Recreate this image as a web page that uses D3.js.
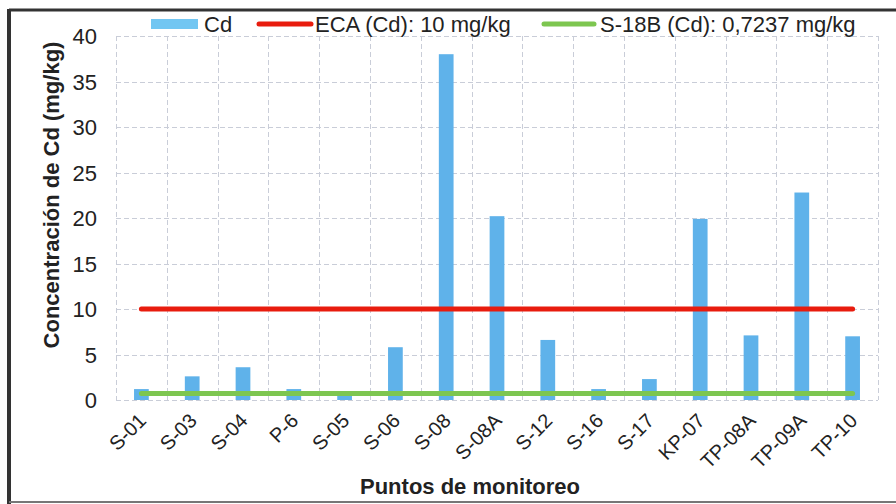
<!DOCTYPE html>
<html><head><meta charset="utf-8">
<script src="https://cdn.jsdelivr.net/npm/d3@7"></script>
<style>body{margin:0;background:#fff}svg{display:block;font-family:"Liberation Sans",Arial,sans-serif}</style>
</head><body><svg id="c" width="896" height="504"></svg>
<script>
const categories = ["S-01","S-03","S-04","P-6","S-05","S-06","S-08","S-08A","S-12","S-16","S-17","KP-07","TP-08A","TP-09A","TP-10"];
const cdValues = [1.2,2.6,3.6,1.2,0.6,5.8,38.0,20.2,6.6,1.2,2.3,19.9,7.1,22.8,7.0];
const ecaValue = 10;
const baselineValue = 0.7237;
const yTicks = [0,5,10,15,20,25,30,35,40];
const legendLabels = ["Cd","ECA (Cd): 10 mg/kg","S-18B (Cd): 0,7237 mg/kg"];

const svg = d3.select("#c");
const L=116,R=878,T=36,B=400;
const x = d3.scaleBand().domain(categories).range([L,R]).padding(0);
const y = d3.scaleLinear().domain([0,40]).range([B,T]);

// frame
svg.append("line").attr("x1",9).attr("x2",896).attr("y1",10).attr("y2",10).attr("stroke","#333").attr("stroke-width",3);
svg.append("line").attr("x1",9).attr("x2",9).attr("y1",9).attr("y2",504).attr("stroke","#333").attr("stroke-width",4);
svg.append("line").attr("x1",9).attr("x2",896).attr("y1",502).attr("y2",502).attr("stroke","#777").attr("stroke-width",2);

// grid
const grid = svg.append("g").attr("stroke","#c9cdd8").attr("stroke-width",1).attr("stroke-dasharray","5,3");
yTicks.forEach(t=>grid.append("line").attr("x1",L).attr("x2",R).attr("y1",Math.round(y(t))+0.5).attr("y2",Math.round(y(t))+0.5));
categories.forEach(c=>grid.append("line").attr("x1",Math.round(x(c))+0.5).attr("x2",Math.round(x(c))+0.5).attr("y1",T).attr("y2",B));
grid.append("line").attr("x1",R+0.5).attr("x2",R+0.5).attr("y1",T).attr("y2",B);

// bars
const bw = x.bandwidth()*0.29;
svg.append("g").selectAll("rect").data(categories).join("rect")
  .attr("x",(d)=>x(d)+x.bandwidth()/2-bw/2)
  .attr("width",bw)
  .attr("y",(d,i)=>y(cdValues[i]))
  .attr("height",(d,i)=>y(0)-y(cdValues[i]))
  .attr("fill","#5fb2ea");

// lines
const x0 = x(categories[0])+x.bandwidth()/2, x1 = x(categories[categories.length-1])+x.bandwidth()/2;
svg.append("line").attr("x1",x0).attr("x2",x1).attr("y1",y(ecaValue)).attr("y2",y(ecaValue))
  .attr("stroke","#e81c0e").attr("stroke-width",5).attr("stroke-linecap","round");
svg.append("line").attr("x1",x0).attr("x2",x1).attr("y1",y(baselineValue)).attr("y2",y(baselineValue))
  .attr("stroke","#7dc650").attr("stroke-width",5).attr("stroke-linecap","round");

// y axis labels
const yAxis = d3.axisLeft(y).tickValues(yTicks).tickSize(0).tickPadding(0);
const ga = svg.append("g").attr("transform","translate(97,0)").call(yAxis);
ga.select(".domain").remove();
ga.selectAll("text").attr("font-size",22).attr("fill","#222").attr("font-family","Liberation Sans, Arial, sans-serif").attr("dy","0.36em");

// x axis labels
const xAxis = d3.axisBottom(x).tickSize(0).tickPadding(0);
const gx = svg.append("g").call(xAxis);
gx.select(".domain").remove();
gx.selectAll(".tick").attr("transform",d=>`translate(${x(d)+x.bandwidth()/2-4},412)`);
gx.selectAll("text").attr("font-size",20).attr("fill","#222").attr("font-family","Liberation Sans, Arial, sans-serif")
  .attr("text-anchor","end").attr("y",0).attr("dy","0.7em").attr("transform","rotate(-45)");

// titles
svg.append("text").attr("transform","translate(59,195) rotate(-90)").attr("text-anchor","middle")
  .attr("font-size",22).attr("font-weight","bold").attr("fill","#222").text("Concentración de Cd (mg/kg)");
svg.append("text").attr("x",470).attr("y",494).attr("text-anchor","middle")
  .attr("font-size",22).attr("font-weight","bold").attr("fill","#222").text("Puntos de monitoreo");

// legend
const lg = svg.append("g");
lg.append("rect").attr("x",151).attr("y",19).attr("width",47).attr("height",10).attr("fill","#72c6f2");
lg.append("text").attr("x",204).attr("y",32).attr("font-size",22).attr("fill","#222").text(legendLabels[0]);
lg.append("line").attr("x1",259).attr("x2",311).attr("y1",24).attr("y2",24).attr("stroke","#e81c0e").attr("stroke-width",5).attr("stroke-linecap","round");
lg.append("text").attr("x",315).attr("y",32).attr("font-size",22).attr("fill","#222").text(legendLabels[1]);
lg.append("line").attr("x1",544).attr("x2",594).attr("y1",24).attr("y2",24).attr("stroke","#7dc650").attr("stroke-width",5).attr("stroke-linecap","round");
lg.append("text").attr("x",600).attr("y",32).attr("font-size",22).attr("fill","#222").text(legendLabels[2]);
</script></body></html>
